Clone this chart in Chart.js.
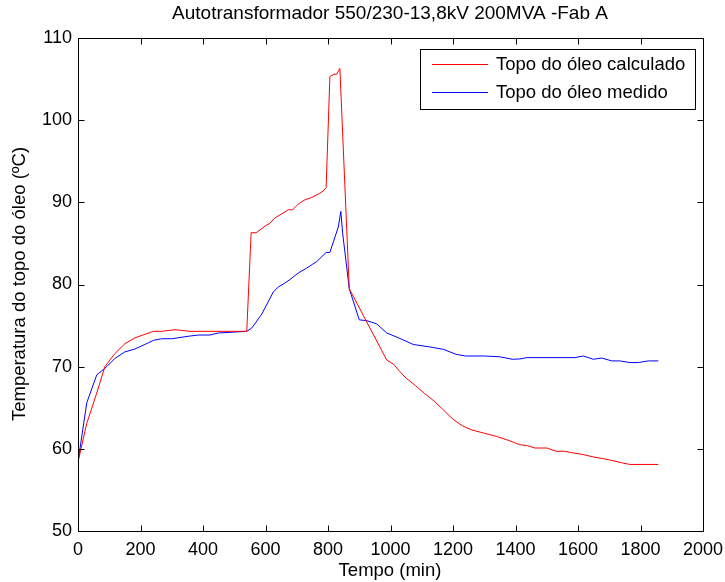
<!DOCTYPE html>
<html><head><meta charset="utf-8">
<script src="https://cdn.jsdelivr.net/npm/chart.js@4"></script>
<style>html,body{margin:0;padding:0;background:#fff}#wrap{width:725px;height:582px}</style>
</head><body><div id="wrap"><canvas id="c" width="725" height="582"></canvas></div>
<script>
const chartTitle = 'Autotransformador 550/230-13,8kV 200MVA -Fab A';
const xLabel = 'Tempo (min)';
const yLabel = 'Temperatura do topo do óleo (ºC)';
const xTicks = [0,200,400,600,800,1000,1200,1400,1600,1800,2000];
const yTicks = [50,60,70,80,90,100,110];
const seriesNames = ['Topo do óleo calculado','Topo do óleo medido'];

const calcTime = [0,28,60,86,118,150,182,241,268,310,358,416,540,554,570,588,602,614,630,652,673,687,705,726,748,769,785,794,806,819,828,838,868,988,1010,1030,1050,1080,1110,1140,1170,1200,1230,1260,1300,1340,1380,1414,1436,1462,1500,1530,1558,1585,1617,1654,1681,1708,1740,1766,1857];
const calcTemp = [58.4,63.1,66.8,70.0,71.6,72.8,73.5,74.3,74.3,74.5,74.3,74.3,74.3,86.3,86.3,86.8,87.2,87.45,88.1,88.6,89.1,89.1,89.8,90.3,90.6,91.0,91.4,91.8,105.3,105.6,105.6,106.3,79.5,70.8,70.3,69.4,68.6,67.7,66.7,65.8,64.7,63.6,62.8,62.3,61.9,61.5,61.0,60.5,60.4,60.1,60.1,59.7,59.7,59.5,59.3,58.97,58.8,58.6,58.3,58.1,58.1];

const measTime = [0,28,60,92,118,150,182,214,241,268,300,353,385,422,449,497,540,556,588,625,641,659,678,705,732,764,794,806,819,833,841,847,868,900,924,956,988,1020,1073,1126,1170,1210,1240,1300,1350,1390,1414,1436,1590,1617,1649,1676,1708,1734,1766,1793,1825,1857];
const measTemp = [58.4,65.6,69.0,70.0,71.0,71.8,72.15,72.7,73.2,73.4,73.4,73.7,73.85,73.85,74.1,74.2,74.3,74.7,76.4,79.1,79.7,80.1,80.6,81.4,82.0,82.8,83.9,83.9,85.4,87.0,88.9,86.2,79.5,75.7,75.6,75.2,74.1,73.6,72.7,72.4,72.1,71.5,71.3,71.3,71.2,70.9,70.94,71.1,71.1,71.3,70.9,71.05,70.7,70.7,70.5,70.5,70.7,70.7];

const FONT = '"Liberation Sans", Arial, Helvetica, sans-serif';
const toPts = (xs, ys) => xs.map((x, i) => ({x, y: ys[i]}));

const framePlugin = {
  id: 'frame',
  afterDraw(chart) {
    const ctx = chart.ctx, a = chart.chartArea;
    const xs = chart.scales.x, ys = chart.scales.y;
    const L = Math.round(a.left) + 0.5, R = Math.round(a.right) + 0.5;
    const T = Math.round(a.top) + 0.5, B = Math.round(a.bottom) + 0.5;
    ctx.save();
    ctx.strokeStyle = '#000'; ctx.lineWidth = 1;
    ctx.beginPath();
    xTicks.forEach(v => {
      const p = Math.round(xs.getPixelForValue(v)) + 0.5;
      ctx.moveTo(p, B); ctx.lineTo(p, B - 6);
      ctx.moveTo(p, T); ctx.lineTo(p, T + 6);
    });
    yTicks.forEach(v => {
      const p = Math.round(ys.getPixelForValue(v)) + 0.5;
      ctx.moveTo(L, p); ctx.lineTo(L + 6, p);
      ctx.moveTo(R, p); ctx.lineTo(R - 6, p);
    });
    ctx.stroke();
    ctx.strokeRect(L, T, R - L, B - T);

    ctx.fillStyle = '#000';
    ctx.font = '19px ' + FONT;
    ctx.textAlign = 'center'; ctx.textBaseline = 'middle';
    ctx.fillText(chartTitle, 390, 14);
    ctx.font = '18.5px ' + FONT;
    ctx.fillText(xLabel, 390, 571);
    ctx.save();
    ctx.translate(20, 284);
    ctx.rotate(-Math.PI / 2);
    ctx.fillText(yLabel, 0, 0);
    ctx.restore();

    const lx = 420.5, ly = 49.5, lw = 275, lh = 60;
    ctx.fillStyle = '#fff';
    ctx.fillRect(lx, ly, lw, lh);
    ctx.strokeStyle = '#000';
    ctx.strokeRect(lx, ly, lw, lh);
    const rows = [64, 92];
    chart.data.datasets.forEach((ds, i) => {
      ctx.strokeStyle = ds.borderColor; ctx.lineWidth = 1;
      ctx.beginPath();
      ctx.moveTo(432, rows[i] + 0.5); ctx.lineTo(488, rows[i] + 0.5);
      ctx.stroke();
      ctx.fillStyle = '#000';
      ctx.font = '18.5px ' + FONT;
      ctx.textAlign = 'left'; ctx.textBaseline = 'middle';
      ctx.fillText(ds.label, 496, rows[i] + 1);
    });
    ctx.restore();
  }
};

new Chart(document.getElementById('c'), {
  type: 'scatter',
  data: {
    datasets: [
      {label: seriesNames[0], data: toPts(calcTime, calcTemp), borderColor: '#ff0000', backgroundColor: '#ff0000', showLine: true, pointRadius: 0, borderWidth: 1, tension: 0},
      {label: seriesNames[1], data: toPts(measTime, measTemp), borderColor: '#0000ff', backgroundColor: '#0000ff', showLine: true, pointRadius: 0, borderWidth: 1, tension: 0}
    ]
  },
  options: {
    responsive: false,
    animation: false,
    events: [],
    layout: {padding: {top: 38, right: 22, left: 0, bottom: 0}},
    plugins: {legend: {display: false}, title: {display: false}, tooltip: {enabled: false}},
    scales: {
      x: {
        type: 'linear', min: 0, max: 2000,
        afterBuildTicks: s => { s.ticks = xTicks.map(v => ({value: v})); },
        afterFit: s => { s.height = 51; s.paddingRight = 0; s.paddingLeft = 0; },
        grid: {display: false, drawTicks: false},
        border: {display: false},
        ticks: {color: '#000', font: {family: FONT, size: 18}, padding: 8, maxRotation: 0, autoSkip: false, callback: v => String(v)}
      },
      y: {
        type: 'linear', min: 50, max: 110,
        afterBuildTicks: s => { s.ticks = yTicks.map(v => ({value: v})); },
        afterFit: s => { s.width = 78; s.paddingTop = 0; s.paddingBottom = 0; },
        grid: {display: false, drawTicks: false},
        border: {display: false},
        ticks: {color: '#000', font: {family: FONT, size: 18}, padding: 6, autoSkip: false, callback: v => String(v)}
      }
    }
  },
  plugins: [framePlugin]
});
</script>
</body></html>
